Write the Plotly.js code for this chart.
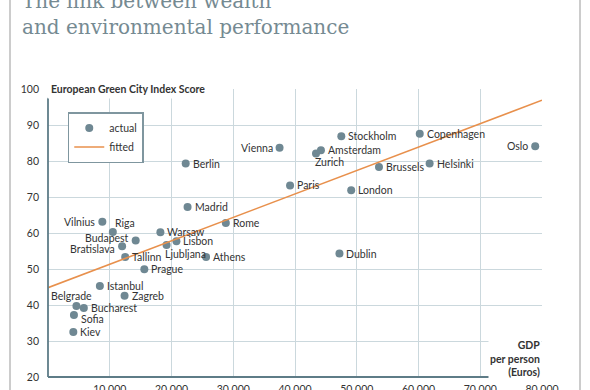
<!DOCTYPE html>
<html>
<head>
<meta charset="utf-8">
<script src="https://cdn.plot.ly/plotly-3.0.1.min.js"></script>
<style>html,body{margin:0;padding:0;background:#fff;}#chart{width:590px;height:390px;}</style>
</head>
<body>
<div id="chart"></div>
<script>
// ---- data ----
const cities = ["Vienna","Berlin","Madrid","Vilnius","Rome","Paris","Stockholm","Copenhagen","Oslo","Amsterdam",
  "Zurich","Brussels","Helsinki","London","Dublin","Riga","Budapest","Bratislava","Tallinn","Warsaw",
  "Lisbon","Ljubljana","Athens","Prague","Istanbul","Zagreb","Belgrade","Bucharest","Sofia","Kiev"];
const gdp = [37500,22300,22600,8800,28800,39200,47500,60200,78900,44200,
  43400,53600,61800,49100,47200,10500,14200,12000,12500,18200,
  20800,19200,25600,15600,8400,12400,4600,5800,4200,4100];
const score = [83.7,79.3,67.2,63.1,62.8,73.2,86.9,87.6,84.1,83.0,
  82.1,78.3,79.3,71.9,54.3,60.3,57.9,56.3,53.3,60.2,
  57.7,56.7,53.3,49.9,45.3,42.6,39.7,39.2,37.2,32.5];
const fittedX = [0, 80000];
const fittedY = [44.8, 96.9];
const xTickVals = [10000,20000,30000,40000,50000,60000,70000,80000];
const xTickText = ["10 000","20 000","30 000","40 000","50 000","60 000","70 000","80 000"];
const yTickVals = [20,30,40,50,60,70,80,90,100];

// ---- label placement (style) ----
const labelStyle = {
  Vienna:{xanchor:"right",xshift:-5,yshift:0},
  Vilnius:{xanchor:"right",xshift:-5,yshift:0},
  Oslo:{xanchor:"right",xshift:-5,yshift:0},
  Budapest:{xanchor:"right",xshift:-5,yshift:3},
  Bratislava:{xanchor:"right",xshift:-5,yshift:-3},
  Zurich:{xanchor:"left",xshift:-3,yshift:-9},
  Ljubljana:{xanchor:"left",xshift:-4,yshift:-9},
  Riga:{xanchor:"left",xshift:0,yshift:9},
  Belgrade:{xanchor:"center",xshift:-5,yshift:10},
  Sofia:{xanchor:"left",xshift:5,yshift:-4}
};
const defaultLabel = {xanchor:"left",xshift:5,yshift:0};

const FONT = "Lato, 'Open Sans', sans-serif";
const dotColor = "#6f8893";
const lineColor = "#e8904c";
const gridColor = "#cbd8dd";
const axisColor = "#5e7c87";

const annotations = cities.map((c,i)=>{
  const s = labelStyle[c] || defaultLabel;
  return {x:gdp[i], y:score[i], xref:"x", yref:"y", text:c, showarrow:false,
    xanchor:s.xanchor, yanchor:"middle", xshift:s.xshift, yshift:s.yshift,
    font:{family:FONT,size:10.5,color:"#333"}};
});
annotations.push({xref:"paper",yref:"paper",x:-0.002,y:1,xanchor:"left",yanchor:"middle",
  text:"<b>European Green City Index Score</b>",showarrow:false,bgcolor:"#fff",borderpad:3,
  font:{family:FONT,size:10.5,color:"#333"}});
annotations.push({xref:"paper",yref:"paper",x:1,y:0,xanchor:"right",yanchor:"bottom",yshift:-3,
  text:"<b>GDP</b><br><b>per person</b><br><b>(Euros)</b>",align:"right",showarrow:false,bgcolor:"#fff",borderpad:1,
  font:{family:FONT,size:10.5,color:"#333"}});

const traces = [
  {type:"scatter",mode:"markers",name:"actual",x:gdp,y:score,text:cities,
   marker:{color:dotColor,size:8},hoverinfo:"text"},
  {type:"scatter",mode:"lines",name:"fitted",x:fittedX,y:fittedY,
   line:{color:lineColor,width:1.6}}
];

const layout = {
  width:590,height:390,
  margin:{l:48,r:48,t:89,b:13},
  paper_bgcolor:"#fff",plot_bgcolor:"#fff",
  title:{text:"The link between wealth<br>and environmental performance",
    font:{family:"'DejaVu Serif', serif",size:20,color:"#758a92"},
    x:22/590,xanchor:"left",xref:"container",yref:"container",y:1-8/390,yanchor:"bottom"},
  xaxis:{range:[0,80000],tickvals:xTickVals,ticktext:xTickText,showgrid:true,gridcolor:gridColor,gridwidth:1,
    zeroline:false,showline:false,ticks:"",ticklabelstandoff:4,
    tickfont:{family:FONT,size:10.5,color:"#333"},fixedrange:true},
  yaxis:{range:[20,100],tickvals:yTickVals,showgrid:true,gridcolor:gridColor,gridwidth:1,
    zeroline:false,showline:false,ticks:"",ticklabelstandoff:8,
    tickfont:{family:FONT,size:10.5,color:"#333"},fixedrange:true},
  showlegend:true,
  legend:{x:0.04,y:0.92,xanchor:"left",yanchor:"top",bgcolor:"#fff",bordercolor:"#7f969f",borderwidth:1.5,
    font:{family:FONT,size:10.5,color:"#333"},itemwidth:30,tracegroupgap:0},
  annotations:annotations,
  shapes:[
    {type:"line",xref:"paper",yref:"y",x0:0,x1:0,y0:20,y1:97.6,line:{color:axisColor,width:1.8}},
    {type:"line",xref:"x",yref:"paper",x0:0,x1:73300,y0:0,y1:0,line:{color:axisColor,width:1.8}},
    {type:"line",xref:"paper",yref:"paper",x0:-0.0769,x1:-0.0769,y0:-0.2,y1:1.5,line:{color:"#cccccc",width:2}},
    {type:"line",xref:"paper",yref:"paper",x0:1.0769,x1:1.0769,y0:-0.2,y1:1.5,line:{color:"#cccccc",width:2}}
  ]
};

Plotly.newPlot("chart",traces,layout,{displayModeBar:false,staticPlot:true});
</script>
</body>
</html>
